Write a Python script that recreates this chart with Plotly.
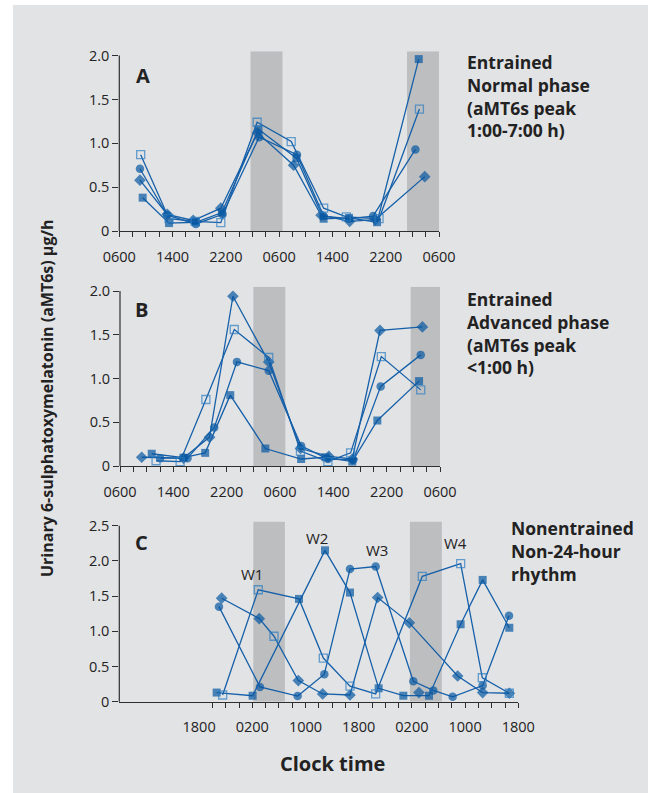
import plotly.graph_objects as go

W, H = 648, 793
FONT = "Open Sans"

# ---------------- data (x = hours after 06:00 of day 1) ----------------
AB_TICKS = [0, 8, 16, 24, 32, 40, 48]
AB_TICK_LABELS = ["0600", "1400", "2200", "0600", "1400", "2200", "0600"]
C_TICKS = [12, 20, 28, 36, 44, 52, 60]
C_TICK_LABELS = ["1800", "0200", "1000", "1800", "0200", "1000", "1800"]
AB_Y_TICKS = [0, 0.5, 1.0, 1.5, 2.0]
C_Y_TICKS = [0, 0.5, 1.0, 1.5, 2.0, 2.5]

# dark (night) periods, hours
a_dark = [(19.7, 24.5), (43.2, 48.0)]
b_dark = [(20.0, 24.8), (43.6, 48.0)]
c_dark = [(20.15, 24.9), (43.7, 48.5)]

# Panel A - entrained, normal phase
a_fsq_x = [3.51, 7.47, 11.5, 15.4, 20.9, 26.6, 30.68, 34.49, 38.7, 44.96]
a_fsq_y = [0.38, 0.09, 0.10, 0.21, 1.16, 0.83, 0.14, 0.15, 0.10, 1.96]
a_osq_x = [3.21, 7.47, 11.4, 15.24, 20.7, 25.81, 30.68, 34.09, 39.0, 45.06]
a_osq_y = [0.87, 0.14, 0.11, 0.095, 1.24, 1.02, 0.26, 0.16, 0.14, 1.39]
a_cir_x = [3.1, 7.2, 11.5, 15.5, 21.0, 26.67, 30.68, 34.49, 38.1, 44.46]
a_cir_y = [0.71, 0.18, 0.08, 0.19, 1.07, 0.87, 0.17, 0.14, 0.17, 0.93]
a_dia_x = [3.1, 7.2, 11.1, 15.24, 20.75, 26.17, 30.3, 34.59, 38.45, 45.86]
a_dia_y = [0.58, 0.19, 0.12, 0.26, 1.12, 0.75, 0.18, 0.11, 0.13, 0.62]

# Panel B - entrained, advanced phase
b_fsq_x = [4.76, 9.52, 12.78, 16.54, 21.8, 27.17, 30.83, 34.84, 38.6, 44.86]
b_fsq_y = [0.14, 0.095, 0.15, 0.81, 0.20, 0.08, 0.10, 0.05, 0.52, 0.97]
b_osq_x = [5.41, 9.02, 12.88, 17.14, 22.31, 27.07, 31.18, 34.59, 39.2, 45.11]
b_osq_y = [0.06, 0.05, 0.76, 1.56, 1.24, 0.17, 0.05, 0.15, 1.25, 0.87]
b_cir_x = [6.02, 10.13, 14.14, 17.54, 22.31, 27.17, 31.18, 34.99, 39.1, 45.11]
b_cir_y = [0.09, 0.09, 0.44, 1.19, 1.09, 0.23, 0.08, 0.07, 0.91, 1.27]
b_dia_x = [3.26, 9.52, 13.43, 16.94, 22.31, 27.07, 31.33, 34.84, 39.0, 45.36]
b_dia_y = [0.10, 0.09, 0.33, 1.94, 1.19, 0.20, 0.11, 0.08, 1.55, 1.59]

# Panel C - non-entrained (non-24-hour rhythm)
c_fsq_x = [14.64, 20.05, 30.93, 34.69, 39.0, 42.71, 46.57, 51.33, 54.64, 58.65]
c_fsq_y = [0.13, 0.085, 2.15, 1.55, 0.19, 0.085, 0.085, 1.10, 1.73, 1.05]
c_osq_x = [15.54, 20.9, 27.02, 30.68, 34.69, 38.55, 45.56, 51.33, 54.59, 58.65]
c_osq_y = [0.095, 1.59, 1.46, 0.62, 0.22, 0.11, 1.78, 1.96, 0.34, 0.12]
c_cir_x = [14.99, 21.15, 26.82, 30.83, 34.69, 38.55, 44.21, 47.22, 50.13, 54.64, 58.6]
c_cir_y = [1.35, 0.21, 0.08, 0.39, 1.885, 1.92, 0.29, 0.16, 0.07, 0.23, 1.22]
c_dia_x = [15.39, 21.05, 23.26, 26.92, 30.58, 34.69, 38.85, 43.61, 50.88, 54.64, 58.65]
c_dia_y = [1.47, 1.18, 0.93, 0.30, 0.11, 0.095, 1.48, 1.12, 0.365, 0.13, 0.12]
c_lone_fsq_x = [50.48]
c_lone_fsq_y = [-0.057]
c_lone_dia_x = [45.06]
c_lone_dia_y = [0.13]

c_week_labels = ["W1", "W2", "W3", "W4"]
c_week_x = [19.9, 29.7, 38.8, 50.6]
c_week_y = [1.82, 2.32, 2.15, 2.25]

# ---------------- styling ----------------
LINE_C = "#1660a9"
FILL_C = "#0757a1"
OPEN_C = "#2c7dc2"
AX_C = "#2e2e2e"
TXT_C = "#222222"
BG = "#e2e3e5"
SHADE = "#bdbec0"

# symbol, colour, size, outline width
MK = {
    "fsq": ("square", FILL_C, 8, 0),
    "osq": ("square-open", OPEN_C, 8, 1.3),
    "cir": ("circle", FILL_C, 8.5, 0),
    "dia": ("diamond", FILL_C, 9, 0),
}

PANELS = {
    "A": dict(xl=119.3, xr=439.0, yb=231.0, ppu=87.7, ytop=2.05, xr_h=48, yline=2.0),
    "B": dict(xl=120.0, xr=440.0, yb=466.0, ppu=87.5, ytop=2.05, xr_h=48, yline=2.0),
    "C": dict(xl=119.3, xr=518.3, yb=701.7, ppu=70.4, ytop=2.56, xr_h=60, yline=2.5),
}

fig = go.Figure()


def add_series(x, y, kind, xa, ya, overrides=None, line=True):
    n = len(x)
    kinds = [kind] * n
    if overrides:
        for i, k in overrides.items():
            kinds[i] = k
    fig.add_trace(go.Scatter(
        x=x, y=y, xaxis=xa, yaxis=ya,
        mode="lines+markers" if line else "markers",
        line=dict(color=LINE_C, width=1.3),
        marker=dict(symbol=[MK[k][0] for k in kinds], color=[MK[k][1] for k in kinds],
                    size=[MK[k][2] for k in kinds],
                    line=dict(color=[MK[k][1] for k in kinds], width=[MK[k][3] for k in kinds])),
        cliponaxis=False, showlegend=False, hoverinfo="skip",
    ))


add_series(a_dia_x, a_dia_y, "dia", "x", "y")
add_series(a_cir_x, a_cir_y, "cir", "x", "y")
add_series(a_fsq_x, a_fsq_y, "fsq", "x", "y")
add_series(a_osq_x, a_osq_y, "osq", "x", "y")

add_series(b_dia_x, b_dia_y, "dia", "x2", "y2")
add_series(b_cir_x, b_cir_y, "cir", "x2", "y2")
add_series(b_fsq_x, b_fsq_y, "fsq", "x2", "y2")
add_series(b_osq_x, b_osq_y, "osq", "x2", "y2")

add_series(c_dia_x, c_dia_y, "dia", "x3", "y3", overrides={2: "osq"})
add_series(c_cir_x, c_cir_y, "cir", "x3", "y3")
add_series(c_fsq_x, c_fsq_y, "fsq", "x3", "y3")
add_series(c_osq_x, c_osq_y, "osq", "x3", "y3", overrides={2: "fsq"})
add_series(c_lone_fsq_x, c_lone_fsq_y, "fsq", "x3", "y3", line=False)
add_series(c_lone_dia_x, c_lone_dia_y, "dia", "x3", "y3", line=False)

shapes = []
shapes.append(dict(type="rect", xref="paper", yref="paper", x0=0, x1=13 / W, y0=0, y1=1,
                   fillcolor="white", line=dict(width=0), layer="below"))
shapes.append(dict(type="rect", xref="paper", yref="paper", x0=0, x1=1, y0=1 - 5 / H, y1=1,
                   fillcolor="white", line=dict(width=0), layer="below"))

layout_axes = {}
tickfont = dict(family=FONT, size=14.5, color=TXT_C)
for i, (name, dark) in enumerate([("A", a_dark), ("B", b_dark), ("C", c_dark)]):
    g = PANELS[name]
    sfx = "" if i == 0 else str(i + 1)
    x0d, x1d = g["xl"] / W, g["xr"] / W
    yb = 1 - g["yb"] / H
    yt = 1 - (g["yb"] - g["ytop"] * g["ppu"]) / H
    if name == "C":
        tv, tt = C_TICKS, C_TICK_LABELS
        minor_vals = list(range(14, 61, 2))
        ytv = C_Y_TICKS
    else:
        tv, tt = AB_TICKS, AB_TICK_LABELS
        minor_vals = list(range(0, 49, 2))
        ytv = AB_Y_TICKS
    layout_axes["xaxis" + sfx] = dict(
        domain=[x0d, x1d], range=[0, g["xr_h"]], anchor="y" + sfx,
        showline=True, linecolor=AX_C, linewidth=1.2, showgrid=False, zeroline=False,
        tickmode="array", tickvals=tv, ticktext=tt, ticks="", tickfont=tickfont,
        ticklabelstandoff=12, automargin=False,
        minor=dict(tickmode="array", tickvals=minor_vals, ticks="outside", ticklen=5,
                   tickwidth=1.2, tickcolor=AX_C, showgrid=False),
    )
    layout_axes["yaxis" + sfx] = dict(
        domain=[yb, yt], range=[0, g["ytop"]], anchor="x" + sfx,
        showline=False, showgrid=False, zeroline=False, automargin=False,
        tickmode="array", tickvals=ytv,
        ticktext=["0" if v == 0 else f"{v:.1f}" for v in ytv],
        ticks="outside", ticklen=6, tickwidth=1.2, tickcolor=AX_C, tickfont=tickfont,
    )
    for (d0, d1) in dark:
        shapes.append(dict(type="rect", xref="x" + sfx, yref="y" + sfx, x0=d0, x1=d1,
                           y0=0, y1=g["ytop"], fillcolor=SHADE, line=dict(width=0),
                           layer="below"))
    ytop_line = yb + (g["yline"] / g["ytop"]) * (yt - yb)
    shapes.append(dict(type="line", xref="paper", yref="paper", x0=x0d, x1=x0d,
                       y0=yb, y1=ytop_line, line=dict(color=AX_C, width=1.2)))

ann = []
bold = lambda s: dict(family=FONT, size=s, color=TXT_C, weight="bold")
for lbl, (px, py) in {"A": (142.5, 75.5), "B": (141, 309.5), "C": (141, 542.5)}.items():
    ann.append(dict(text=lbl, x=px / W, y=1 - py / H, xref="paper", yref="paper",
                    xanchor="center", yanchor="middle", showarrow=False, font=bold(20)))

side = [
    ("Entrained<br>Normal phase<br>(aMT6s peak<br>1:00-7:00 h)", 465, 48),
    ("Entrained<br>Advanced phase<br>(aMT6s peak<br>&lt;1:00 h)", 465, 285),
    ("Nonentrained<br>Non-24-hour<br>rhythm", 509, 514),
]
for txt, px, py in side:
    ann.append(dict(text=txt, x=px / W, y=1 - py / H, xref="paper", yref="paper",
                    xanchor="left", yanchor="top", align="left", showarrow=False,
                    font=bold(17.5)))

for t, xv, yv in zip(c_week_labels, c_week_x, c_week_y):
    ann.append(dict(text=t, x=xv, y=yv, xref="x3", yref="y3", showarrow=False,
                    xanchor="center", yanchor="middle",
                    font=dict(family=FONT, size=15, color=TXT_C)))

ann.append(dict(text="Urinary 6-sulphatoxymelatonin (aMT6s) µg/h", textangle=-90,
                x=47 / W, y=1 - 398 / H, xref="paper", yref="paper", showarrow=False,
                xanchor="center", yanchor="middle", font=bold(16)))
ann.append(dict(text="Clock time", x=333 / W, y=1 - 763 / H, xref="paper", yref="paper",
                showarrow=False, xanchor="center", yanchor="middle", font=bold(20)))

fig.update_layout(
    width=W, height=H, margin=dict(l=0, r=0, t=0, b=0, pad=0), autosize=False,
    paper_bgcolor=BG, plot_bgcolor="rgba(0,0,0,0)",
    shapes=shapes, annotations=ann, font=dict(family=FONT, color=TXT_C),
    **layout_axes,
)

fig.write_html(
    "out.html",
    config={"responsive": False, "displayModeBar": False},
    post_script=("document.body.style.margin='0';document.body.style.padding='0';"
                 "document.documentElement.style.margin='0';"
                 "document.documentElement.style.overflow='hidden';"),
)
